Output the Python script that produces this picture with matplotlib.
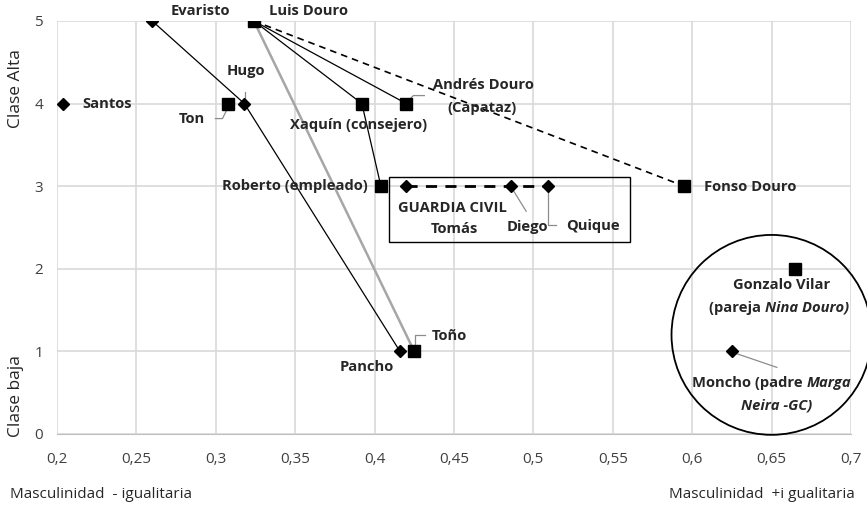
import matplotlib.pyplot as plt
from matplotlib.patches import Ellipse, Rectangle

plt.rcParams['font.family'] = ['Open Sans', 'DejaVu Sans']

# Personajes: masculinidad (x) y clase social (y)
nombres = ["Santos", "Evaristo", "Luis Douro", "Ton", "Hugo", "Xaquín", "Andrés Douro",
           "Roberto", "Tomás", "Diego", "Quique", "Fonso Douro", "Gonzalo Vilar",
           "Moncho", "Pancho", "Toño"]
masculinidad = [0.204, 0.260, 0.324, 0.308, 0.318, 0.392, 0.420,
                0.404, 0.420, 0.486, 0.509, 0.595, 0.665,
                0.625, 0.416, 0.425]
clase = [4, 5, 5, 4, 4, 4, 4,
         3, 3, 3, 3, 3, 2,
         1, 1, 1]
cuadrado = ["Luis Douro", "Ton", "Xaquín", "Andrés Douro", "Roberto",
            "Fonso Douro", "Gonzalo Vilar", "Toño"]

# Relaciones entre personajes
rel_negras = [["Evaristo", "Hugo", "Pancho"],
              ["Luis Douro", "Xaquín", "Roberto"],
              ["Luis Douro", "Andrés Douro"]]
rel_gris = [["Luis Douro", "Toño"]]
rel_discont = [["Luis Douro", "Fonso Douro"]]
rel_gc = [["Tomás", "Diego", "Quique"]]

x_ticks = [0.2, 0.25, 0.3, 0.35, 0.4, 0.45, 0.5, 0.55, 0.6, 0.65, 0.7]

idx = {n: i for i, n in enumerate(nombres)}

fig = plt.figure(figsize=(8.67, 5.07), dpi=100)
ax = fig.add_axes([0.0657, 0.144, 0.9158, 0.8146])
ax.set_xlim(0.2, 0.7)
ax.set_ylim(0, 5)

W = 0.9158 * 867
H = 0.8146 * 507


def pt(nombre, dx=0, dy=0):
    # punto desplazado en pixeles (dy hacia abajo)
    i = idx[nombre]
    return masculinidad[i] + dx * 0.5 / W, clase[i] - dy * 5 / H


def tramo(grupo, **kw):
    xs = [masculinidad[idx[n]] for n in grupo]
    ys = [clase[idx[n]] for n in grupo]
    ax.plot(xs, ys, zorder=2, **kw)


for g in rel_negras:
    tramo(g, color="black", lw=0.9)
for g in rel_gris:
    tramo(g, color="#a6a6a6", lw=1.8)
for g in rel_discont:
    tramo(g, color="black", lw=1.2, dashes=(4, 3))
for g in rel_gc:
    tramo(g, color="black", lw=2.0, dashes=(4, 3))

for n in nombres:
    i = idx[n]
    if n in cuadrado:
        ax.plot(masculinidad[i], clase[i], marker="s", ms=9, color="black", zorder=4)
    else:
        ax.plot(masculinidad[i], clase[i], marker="D", ms=6.5, color="black", zorder=4)

# Líneas guía grises
def guia(*puntos):
    xs = [p[0] for p in puntos]
    ys = [p[1] for p in puntos]
    ax.plot(xs, ys, color="#8c8c8c", lw=0.9, zorder=3)

guia(pt("Ton", -2, 7), pt("Ton", -6, 15), pt("Ton", -13, 15))
guia(pt("Hugo", 1, -4), pt("Hugo", 1, -12))
guia(pt("Andrés Douro", 2, -3), pt("Andrés Douro", 7, -8), pt("Andrés Douro", 18, -8))
guia(pt("Diego", 2, 4), pt("Diego", 15, 25))
guia(pt("Quique", 0, 4), pt("Quique", 0, 39), pt("Quique", 8, 39))
guia(pt("Toño", 1, -4), pt("Toño", 1, -16), pt("Toño", 11, -16))
guia(pt("Moncho", 4, 2), pt("Moncho", 45, 16))

fb = dict(fontsize=10.6, fontweight="bold", color="#262626", zorder=5)


def etiqueta(texto, nombre, dx, dy, ha="center", **kw):
    x, y = pt(nombre, dx, dy)
    return ax.text(x, y, texto, ha=ha, va="center", **{**fb, **kw})


etiqueta("Evaristo", "Evaristo", 48, -10)
etiqueta("Luis Douro", "Luis Douro", 55, -10)
etiqueta("Hugo", "Hugo", 2, -33)
etiqueta("Santos", "Santos", 19, 0, ha="left")
etiqueta("Ton", "Ton", -37, 15)
etiqueta("Xaquín (consejero)", "Xaquín", -3, 21)
etiqueta("Andrés Douro", "Andrés Douro", 77, -19)
etiqueta("(Capataz)", "Andrés Douro", 76, 4)
etiqueta("Roberto (empleado)", "Roberto", -13, 0, ha="right")
etiqueta("GUARDIA CIVIL", "Tomás", 46, 22)
etiqueta("Tomás", "Tomás", 48, 43)
etiqueta("Diego", "Diego", 16, 41)
etiqueta("Quique", "Quique", 45, 40)
etiqueta("Fonso Douro", "Fonso Douro", 20, 1, ha="left")
etiqueta("Gonzalo Vilar", "Gonzalo Vilar", -14, 16)
etiqueta("Toño", "Toño", 35, -15)
etiqueta("Pancho", "Pancho", -33, 16)

# textos con partes en cursiva
t1 = etiqueta("(pareja ", "Gonzalo Vilar", -86, 39, ha="left")
ax.annotate("Nina Douro)", xy=(1, 0), xycoords=t1, va="bottom", ha="left",
            style="italic", annotation_clip=False, **fb)
t2 = etiqueta("Moncho (padre ", "Moncho", -40, 32, ha="left")
ax.annotate("Marga", xy=(1, 0), xycoords=t2, va="bottom", ha="left",
            style="italic", annotation_clip=False, **fb)
etiqueta("Neira -GC)", "Moncho", 45, 54, style="italic")

ax.add_patch(Rectangle((0.409, 2.33), 0.152, 0.78, fill=False, ec="black", lw=1.0, zorder=3))
ax.add_patch(Ellipse((0.65, 1.2), 0.126, 2.42, fill=False, ec="black", lw=1.3,
                     clip_on=False, zorder=3))

ax.set_xticks(x_ticks)
ax.set_xticklabels([str(v).replace(".", ",") for v in x_ticks])
ax.set_yticks(range(6))
ax.tick_params(length=0, labelsize=11, labelcolor="#404040")
ax.tick_params(axis="x", pad=13)
ax.tick_params(axis="y", pad=10)
ax.grid(True, color="#d9d9d9", lw=1.2)
ax.set_axisbelow(True)
for s in ["top", "right", "left"]:
    ax.spines[s].set_visible(False)
ax.spines["bottom"].set_color("#bfbfbf")

fig.text(0.012, 0.024, "Masculinidad  - igualitaria", fontsize=11, color="#262626", va="center")
fig.text(0.986, 0.024, "Masculinidad  +i gualitaria", fontsize=11, color="#262626",
         ha="right", va="center")
fig.text(0.018, 0.826, "Clase Alta", rotation=90, fontsize=12.5, color="#262626",
         ha="center", va="center")
fig.text(0.018, 0.219, "Clase baja", rotation=90, fontsize=12.5, color="#262626",
         ha="center", va="center")

fig.savefig("out.png", dpi=100)
